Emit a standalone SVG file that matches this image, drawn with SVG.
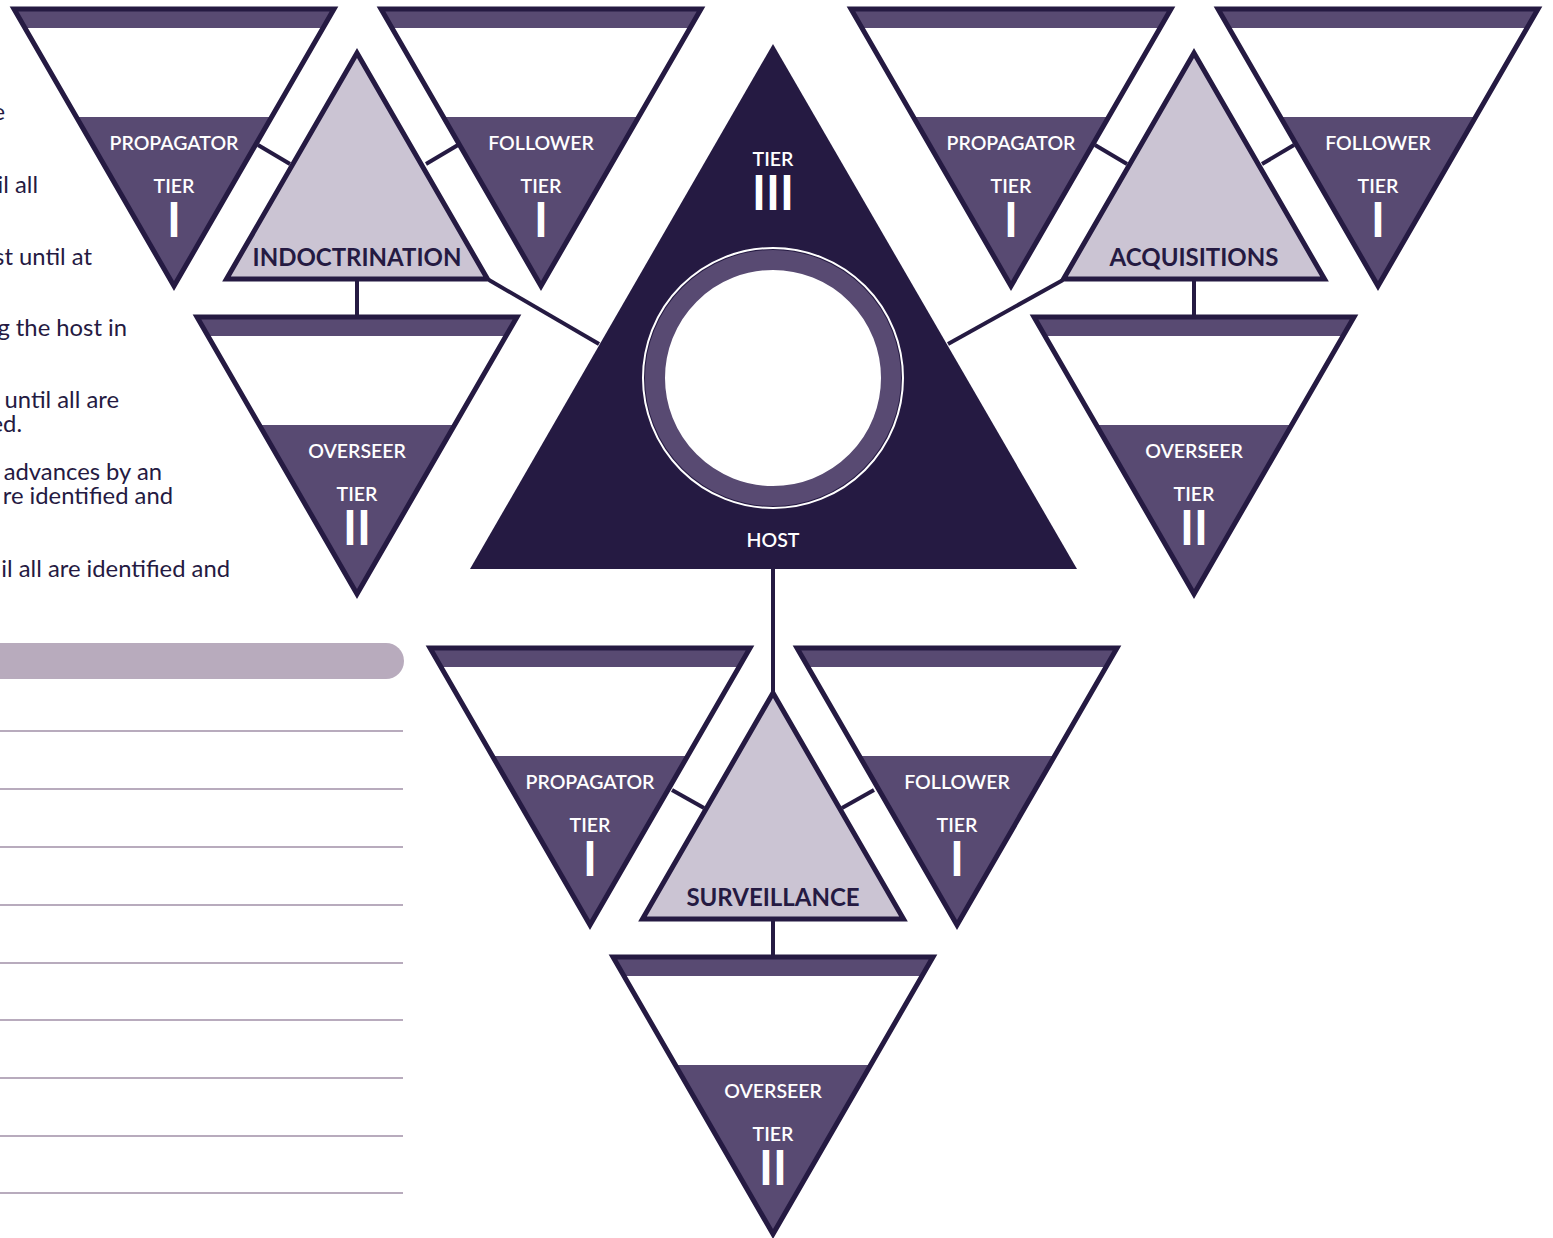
<svg xmlns="http://www.w3.org/2000/svg" xmlns:xlink="http://www.w3.org/1999/xlink" width="1553" height="1238" viewBox="0 0 1553 1238">
<style>
.dark{fill:#251a42}
.mid{fill:#584a72}
.outline{fill:none;stroke:#251a42;stroke-width:5;stroke-linejoin:miter}
.up{fill:#cbc4d3;stroke:#251a42;stroke-width:5;stroke-linejoin:miter}
.conn line{stroke:#251a42;stroke-width:4}
.lbl{font-family:Lato,"Noto Sans",sans-serif;font-weight:600;font-size:19.5px;fill:#ffffff;text-anchor:middle}
.num{font-family:Lato,"Noto Sans",sans-serif;font-weight:700;font-size:47px;fill:#ffffff;text-anchor:middle}
.title{font-family:Lato,"Noto Sans",sans-serif;font-weight:700;font-size:24px;fill:#251a42;text-anchor:middle}
.body{font-family:Lato,"Noto Sans",sans-serif;font-size:23.8px;fill:#251a42;text-anchor:end}
.rule{stroke:#b8abbd;stroke-width:2}
</style>
<defs>
<g id="invShape">
<polygon points="-160,0 160,0 0,277" fill="#ffffff"/>
<polygon points="-160,0 160,0 149,19 -149,19" class="mid"/>
<polygon points="-97.6,108 97.6,108 0,277" class="mid"/>
<polygon points="-160,0 160,0 0,277" class="outline"/>
</g>
<polygon id="upShape" points="0,0 130.5,226 -130.5,226" class="up"/>
</defs>
<rect width="1553" height="1238" fill="#ffffff"/>

<g id="notes">
<text class="body" x="5" y="120">e</text>
<text class="body" x="38" y="193">il all</text>
<text class="body" x="92" y="265">st until at</text>
<text class="body" x="127" y="336">g the host in</text>
<text class="body" x="119" y="408">until all are</text>
<text class="body" x="22" y="432">ed.</text>
<text class="body" x="162" y="480">advances by an</text>
<text class="body" x="173" y="504">re identified and</text>
<text class="body" x="230" y="577">il all are identified and</text>
<path d="M-10,643 H386 A18,18 0 0 1 386,679 H-10 Z" fill="#b8abbd"/>
<line class="rule" x1="0" y1="731" x2="403" y2="731"/>
<line class="rule" x1="0" y1="789" x2="403" y2="789"/>
<line class="rule" x1="0" y1="847" x2="403" y2="847"/>
<line class="rule" x1="0" y1="905" x2="403" y2="905"/>
<line class="rule" x1="0" y1="963" x2="403" y2="963"/>
<line class="rule" x1="0" y1="1020" x2="403" y2="1020"/>
<line class="rule" x1="0" y1="1078" x2="403" y2="1078"/>
<line class="rule" x1="0" y1="1136" x2="403" y2="1136"/>
<line class="rule" x1="0" y1="1193" x2="403" y2="1193"/>
</g>

<g id="connectors" class="conn">
<line x1="258" y1="145" x2="290" y2="164"/>
<line x1="426" y1="164" x2="458" y2="145"/>
<line x1="357" y1="279" x2="357" y2="318"/>
<line x1="489" y1="280" x2="599" y2="344"/>
<line x1="1095" y1="145" x2="1127" y2="164"/>
<line x1="1262" y1="164" x2="1294" y2="145"/>
<line x1="1194" y1="279" x2="1194" y2="318"/>
<line x1="1063" y1="280" x2="948" y2="344"/>
<line x1="773" y1="568" x2="773" y2="694"/>
<line x1="672" y1="790" x2="704" y2="808"/>
<line x1="842" y1="808" x2="874" y2="790"/>
<line x1="773" y1="919" x2="773" y2="958"/>
</g>

<g id="host">
<polygon points="773,44 1077,569 470,569" class="dark"/>
<circle cx="773" cy="378" r="130" fill="none" stroke="#ffffff" stroke-width="2"/>
<circle cx="773" cy="378" r="118" fill="#ffffff" stroke="#584a72" stroke-width="20"/>
<text class="lbl" x="773" y="166">TIER</text>
<text class="num" x="773" y="210">III</text>
<text class="lbl" x="773" y="547">HOST</text>
</g>

<g id="indoctrination" transform="translate(357,53)">
<use xlink:href="#upShape" href="#upShape"/>
<text class="title" x="0" y="213">INDOCTRINATION</text>
</g>
<g id="acquisitions" transform="translate(1194,53)">
<use xlink:href="#upShape" href="#upShape"/>
<text class="title" x="0" y="213">ACQUISITIONS</text>
</g>
<g id="surveillance" transform="translate(773,693)">
<use xlink:href="#upShape" href="#upShape"/>
<text class="title" x="0" y="213">SURVEILLANCE</text>
</g>

<g id="indoctrination-propagator" transform="translate(174,9)">
<use xlink:href="#invShape" href="#invShape"/>
<text class="lbl" x="0" y="141">PROPAGATOR</text>
<text class="lbl" x="0" y="184">TIER</text>
<text class="num" x="0" y="228">I</text>
</g>
<g id="indoctrination-follower" transform="translate(541,9)">
<use xlink:href="#invShape" href="#invShape"/>
<text class="lbl" x="0" y="141">FOLLOWER</text>
<text class="lbl" x="0" y="184">TIER</text>
<text class="num" x="0" y="228">I</text>
</g>
<g id="indoctrination-overseer" transform="translate(357,317)">
<use xlink:href="#invShape" href="#invShape"/>
<text class="lbl" x="0" y="141">OVERSEER</text>
<text class="lbl" x="0" y="184">TIER</text>
<text class="num" x="0" y="228">II</text>
</g>

<g id="acquisitions-propagator" transform="translate(1011,9)">
<use xlink:href="#invShape" href="#invShape"/>
<text class="lbl" x="0" y="141">PROPAGATOR</text>
<text class="lbl" x="0" y="184">TIER</text>
<text class="num" x="0" y="228">I</text>
</g>
<g id="acquisitions-follower" transform="translate(1378,9)">
<use xlink:href="#invShape" href="#invShape"/>
<text class="lbl" x="0" y="141">FOLLOWER</text>
<text class="lbl" x="0" y="184">TIER</text>
<text class="num" x="0" y="228">I</text>
</g>
<g id="acquisitions-overseer" transform="translate(1194,317)">
<use xlink:href="#invShape" href="#invShape"/>
<text class="lbl" x="0" y="141">OVERSEER</text>
<text class="lbl" x="0" y="184">TIER</text>
<text class="num" x="0" y="228">II</text>
</g>

<g id="surveillance-propagator" transform="translate(590,648)">
<use xlink:href="#invShape" href="#invShape"/>
<text class="lbl" x="0" y="141">PROPAGATOR</text>
<text class="lbl" x="0" y="184">TIER</text>
<text class="num" x="0" y="228">I</text>
</g>
<g id="surveillance-follower" transform="translate(957,648)">
<use xlink:href="#invShape" href="#invShape"/>
<text class="lbl" x="0" y="141">FOLLOWER</text>
<text class="lbl" x="0" y="184">TIER</text>
<text class="num" x="0" y="228">I</text>
</g>
<g id="surveillance-overseer" transform="translate(773,957)">
<use xlink:href="#invShape" href="#invShape"/>
<text class="lbl" x="0" y="141">OVERSEER</text>
<text class="lbl" x="0" y="184">TIER</text>
<text class="num" x="0" y="228">II</text>
</g>
</svg>
